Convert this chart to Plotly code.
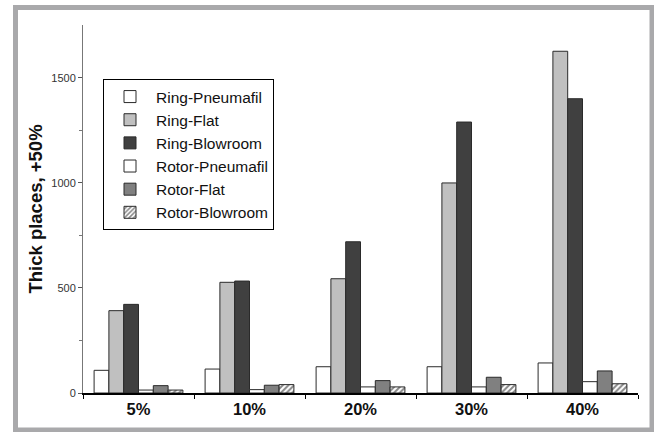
import plotly.graph_objects as go

categories = ["5%", "10%", "20%", "30%", "40%"]
series_names = ["Ring-Pneumafil", "Ring-Flat", "Ring-Blowroom",
                "Rotor-Pneumafil", "Rotor-Flat", "Rotor-Blowroom"]
ring_pneumafil = [108, 114, 125, 125, 143]
ring_flat = [392, 527, 544, 1000, 1627]
ring_blowroom = [422, 533, 720, 1290, 1401]
rotor_pneumafil = [14, 16, 29, 29, 54]
rotor_flat = [35, 37, 59, 75, 105]
rotor_blowroom = [14, 40, 29, 40, 44]

values = [ring_pneumafil, ring_flat, ring_blowroom,
          rotor_pneumafil, rotor_flat, rotor_blowroom]
fills = ["#ffffff", "#c0c0c0", "#404040", "#ffffff", "#808080", "#ffffff"]

W, H = 654, 432
L, T = 83, 25
R = W - 638
B = H - 393
pw, ph = W - L - R, H - T - B


def px_x(wx):
    return (wx - L) / pw


def px_y(wy):
    return (H - B - wy) / ph


fig = go.Figure()
for name, vals, col in zip(series_names, values, fills):
    marker = dict(color=col, line=dict(color="#2a2a2a", width=1))
    if name == "Rotor-Blowroom":
        marker["pattern"] = dict(shape="/", fgcolor="#111111", bgcolor="#ffffff",
                                 size=4, solidity=0.5)
    fig.add_trace(go.Bar(x=categories, y=vals, name=name, marker=marker))

fig.update_layout(
    width=W, height=H,
    margin=dict(l=L, r=R, t=T, b=B),
    paper_bgcolor="white", plot_bgcolor="white",
    barmode="group", bargap=0.2, bargroupgap=0,
    font=dict(family="Liberation Sans, Arial, sans-serif", color="#000"),
    legend=dict(x=px_x(103), y=px_y(79), xanchor="left", yanchor="top",
                bordercolor="#000", borderwidth=1, bgcolor="white",
                font=dict(size=15.5, color="#111"), itemwidth=42,
                traceorder="normal"),
    xaxis=dict(type="category", showline=True, linecolor="#000", linewidth=1.5,
               ticks="outside", tickson="boundaries", ticklen=4, tickcolor="#000",
               tickfont=dict(size=16.5, family="Liberation Sans, Arial, sans-serif",
                             weight="bold", color="#111"),
               range=[-0.5, 4.5]),
    yaxis=dict(range=[0, 1752], showline=True, linecolor="#777", linewidth=1,
               ticks="outside", ticklen=4, tickcolor="#555",
               tickvals=[0, 500, 1000, 1500], showgrid=False, zeroline=False,
               tickfont=dict(size=11, color="#333"),
               minor=dict(tickvals=[250, 750, 1250], ticks="outside", ticklen=3,
                          tickcolor="#777"),
               title=dict(text="Thick places, +50%", standoff=3,
                          font=dict(size=18.5, weight="bold", color="#111"))),
    shapes=[dict(type="rect", xref="paper", yref="paper",
                 x0=px_x(15.5), x1=px_x(652),
                 y0=px_y(430), y1=px_y(7.5),
                 line=dict(color="#a9a9ab", width=5), fillcolor="rgba(0,0,0,0)",
                 layer="below")],
)

fig.write_html(
    "out.html",
    config={"displayModeBar": False},
    post_script="document.body.style.margin='0';document.body.style.overflow='hidden';",
)
